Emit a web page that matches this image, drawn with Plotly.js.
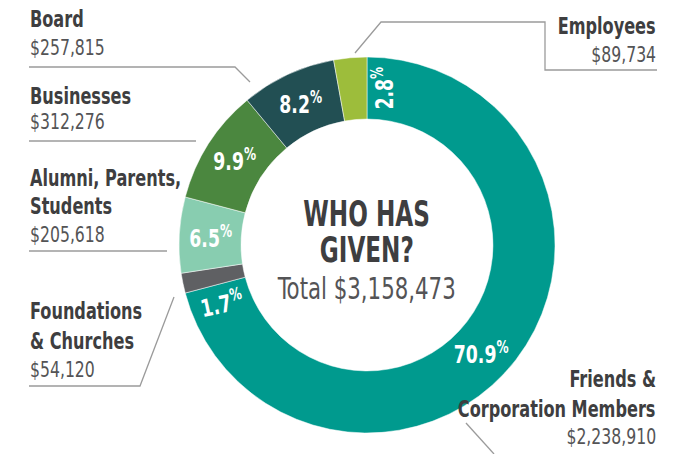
<!DOCTYPE html>
<html>
<head>
<meta charset="utf-8">
<script src="https://cdn.plot.ly/plotly-3.0.1.min.js"></script>
<style>html,body{margin:0;padding:0;background:#fff;}#chart{width:691px;height:454px;}</style>
</head>
<body>
<div id="chart"></div>
<script>
// ---- data ----
const categories = ['Friends & Corporation Members', 'Foundations & Churches', 'Alumni, Parents, Students', 'Businesses', 'Board', 'Employees'];
const amounts = [2238910, 54120, 205618, 312276, 257815, 89734];
const amountLabels = ['$2,238,910', '$54,120', '$205,618', '$312,276', '$257,815', '$89,734'];
const nameLines = [['Friends &', 'Corporation Members'], ['Foundations', '& Churches'], ['Alumni, Parents,', 'Students'], ['Businesses'], ['Board'], ['Employees']];
const colors = ['#009A8E', '#5F6063', '#88CDB0', '#4B873F', '#224F53', '#9DBD3B'];
const centerTitle = ['WHO HAS', 'GIVEN?'];
const totalLabel = 'Total $3,158,473';

// ---- geometry / style ----
const W = 691, H = 454;
const cx = 367, cy = 245, R = 188, hole = 0.67;
const px = x => x / W, py = y => 1 - y / H;
const FONT = '"DejaVu Sans Condensed", "Liberation Sans Narrow", Arial, sans-serif';

const total = amounts.reduce((a, b) => a + b, 0);

const trace = {
  type: 'pie',
  values: amounts,
  labels: categories,
  marker: {colors: colors, line: {color: '#ffffff', width: 0.5}},
  sort: false,
  direction: 'clockwise',
  rotation: 0,
  hole: hole,
  textinfo: 'none',
  hoverinfo: 'label+value+percent',
  showlegend: false,
  domain: {x: [px(cx - R), px(cx + R)], y: [py(cy + R), py(cy - R)]}
};

const annotations = [];
const annScale = [];
function addAnn(a, s) { annotations.push(a); annScale.push(s); }

// percentage labels derived from values
const labelStyle = {0: {shift: 6, angle: 0}, 1: {shift: -10, angle: -12}, 5: {shift: 11, angle: -90}};
let cum = 0;
const rMid = R * (1 + hole) / 2;
amounts.forEach((v, i) => {
  const frac = v / total;
  let mid = (cum + frac / 2) * 360;
  cum += frac;
  const pct = (frac * 100).toFixed(1);
  let angle = 0;
  if (labelStyle[i]) { mid += labelStyle[i].shift; angle = labelStyle[i].angle; }
  const rad = mid * Math.PI / 180;
  const x = cx + rMid * Math.sin(rad);
  const y = cy - rMid * Math.cos(rad);
  addAnn({
    xref: 'paper', yref: 'paper', x: px(x), y: py(y),
    xanchor: 'center', yanchor: 'middle', showarrow: false,
    text: pct + '<sup>%</sup>', textangle: angle,
    font: {family: FONT, size: 24, color: '#ffffff', weight: 'bold'}
  }, 0.8);
});

// outside category labels
const boldFont = {family: FONT, size: 23, color: '#3E3E40', weight: 'bold'};
const valFont = {family: FONT, size: 21, color: '#545456'};
const blocks = [
  {i: 0, side: 'right', ys: [379, 409, 437]},
  {i: 1, side: 'left', ys: [311, 341, 370]},
  {i: 2, side: 'left', ys: [178, 206, 235]},
  {i: 3, side: 'left', ys: [96, 122]},
  {i: 4, side: 'left', ys: [19, 48]},
  {i: 5, side: 'right', ys: [26, 55]}
];
blocks.forEach(b => {
  const lines = nameLines[b.i].concat([amountLabels[b.i]]);
  lines.forEach((t, k) => {
    const isVal = k === lines.length - 1;
    addAnn({
      xref: 'paper', yref: 'paper',
      x: b.side === 'left' ? px(28) : px(658),
      y: py(b.ys[k]),
      xanchor: b.side === 'left' ? 'left' : 'right', yanchor: 'middle',
      showarrow: false, text: t,
      font: isVal ? valFont : boldFont
    }, isVal ? 0.83 : 0.78);
  });
});

// center text
addAnn({xref: 'paper', yref: 'paper', x: px(cx), y: py(213), xanchor: 'center', yanchor: 'middle', showarrow: false,
  text: centerTitle[0], font: {family: FONT, size: 36, color: '#3E3E40', weight: 'bold'}}, 0.715);
addAnn({xref: 'paper', yref: 'paper', x: px(cx), y: py(249), xanchor: 'center', yanchor: 'middle', showarrow: false,
  text: centerTitle[1], font: {family: FONT, size: 36, color: '#3E3E40', weight: 'bold'}}, 0.715);
addAnn({xref: 'paper', yref: 'paper', x: px(cx), y: py(288), xanchor: 'center', yanchor: 'middle', showarrow: false,
  text: totalLabel, font: {family: FONT, size: 30, color: '#545456'}}, 0.79);

// leader lines
const leader = pts => ({
  type: 'path', xref: 'paper', yref: 'paper',
  path: pts.map((p, k) => (k ? 'L ' : 'M ') + px(p[0]).toFixed(5) + ',' + py(p[1]).toFixed(5)).join(' '),
  line: {color: '#9B9B9B', width: 1.3}
});
const shapes = [
  leader([[29, 67], [235, 67], [250, 82]]),
  leader([[29, 141], [196, 141]]),
  leader([[29, 251], [167, 251]]),
  leader([[29, 386], [140, 386], [174, 297]]),
  leader([[355, 53], [381, 22], [545, 22], [545, 70], [657, 70]]),
  leader([[466, 423], [494, 454]])
];

const layout = {
  width: W, height: H,
  margin: {l: 0, r: 0, t: 0, b: 0},
  paper_bgcolor: '#ffffff',
  showlegend: false,
  annotations: annotations,
  shapes: shapes
};

Plotly.newPlot('chart', [trace], layout, {displayModeBar: false, staticPlot: true}).then(gd => {
  // condense annotation text horizontally to mimic the condensed typeface
  gd.querySelectorAll('g.annotation').forEach(g => {
    const idx = +g.getAttribute('data-index');
    const s = annScale[idx];
    const t = g.querySelector('text.annotation-text');
    if (!t || !s) return;
    const bb = t.getBBox();
    const xa = annotations[idx].xanchor;
    const ax = xa === 'left' ? bb.x : (xa === 'right' ? bb.x + bb.width : bb.x + bb.width / 2);
    const prev = t.getAttribute('transform') || '';
    t.setAttribute('transform', prev + ' translate(' + ax + ',0) scale(' + s + ',1) translate(' + (-ax) + ',0)');
  });
});
</script>
</body>
</html>
